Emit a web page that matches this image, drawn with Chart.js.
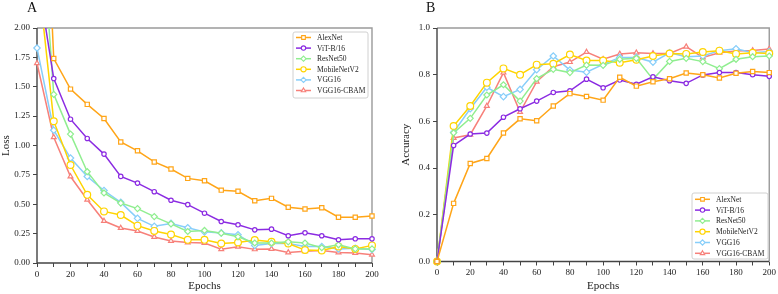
<!DOCTYPE html>
<html>
<head>
<meta charset="utf-8">
<script src="https://cdn.jsdelivr.net/npm/chart.js@4"></script>
<style>
    body { margin: 0; background: #fff; }
    #page { position: relative; width: 778px; height: 294px; overflow: hidden; }
    .panel { position: absolute; top: 0; height: 294px; }
    .tag { position: absolute; font-family: "Liberation Serif", serif; font-size: 14px; line-height: 14px; color: #111; }
</style>
</head>
<body>
<div id="page">
    <div class="panel" style="left:0;width:390px;"><canvas id="lossChart" width="390" height="294"></canvas></div>
    <div class="panel" style="left:390px;width:388px;"><canvas id="accChart" width="388" height="294"></canvas></div>
    <div class="tag" style="left:27px;top:1px;">A</div>
    <div class="tag" style="left:426px;top:1px;">B</div>
</div>
<script>
const epochs = [0, 10, 20, 30, 40, 50, 60, 70, 80, 90, 100, 110, 120, 130, 140, 150, 160, 170, 180, 190, 200];
const modelNames = ['AlexNet', 'ViT-B/16', 'ResNet50', 'MobileNetV2', 'VGG16', 'VGG16-CBAM'];

// loss curves (panel A)
const lossAlexNet = [4.8, 1.74, 1.48, 1.35, 1.23, 1.03, 0.955, 0.86, 0.80, 0.72, 0.70, 0.62, 0.61, 0.53, 0.55, 0.475, 0.46, 0.47, 0.39, 0.39, 0.40];
const lossViT = [2.47, 1.57, 1.224, 1.06, 0.927, 0.737, 0.68, 0.607, 0.534, 0.497, 0.424, 0.353, 0.325, 0.282, 0.288, 0.232, 0.257, 0.232, 0.198, 0.206, 0.206];
const lossResNet = [3.45, 1.435, 1.097, 0.777, 0.596, 0.51, 0.463, 0.395, 0.333, 0.268, 0.277, 0.254, 0.223, 0.17, 0.17, 0.18, 0.17, 0.13, 0.155, 0.12, 0.12];
const lossMobileNet = [2.53, 1.207, 0.834, 0.58, 0.439, 0.408, 0.318, 0.273, 0.242, 0.197, 0.197, 0.166, 0.175, 0.195, 0.18, 0.166, 0.11, 0.107, 0.14, 0.12, 0.15];
const lossVGG16 = [1.83, 1.13, 0.893, 0.736, 0.617, 0.516, 0.38, 0.312, 0.337, 0.30, 0.265, 0.256, 0.24, 0.15, 0.166, 0.166, 0.14, 0.14, 0.12, 0.125, 0.115];
const lossCBAM = [1.70, 1.07, 0.736, 0.538, 0.357, 0.298, 0.273, 0.222, 0.188, 0.175, 0.17, 0.118, 0.138, 0.116, 0.12, 0.09, 0.10, 0.107, 0.09, 0.085, 0.07];

// accuracy curves (panel B)
const accAlexNet = [0, 0.249, 0.42, 0.441, 0.55, 0.611, 0.603, 0.666, 0.719, 0.707, 0.691, 0.789, 0.751, 0.77, 0.783, 0.807, 0.80, 0.786, 0.806, 0.814, 0.809];
const accViT = [0, 0.497, 0.546, 0.55, 0.618, 0.654, 0.687, 0.724, 0.731, 0.781, 0.744, 0.777, 0.759, 0.791, 0.774, 0.763, 0.799, 0.809, 0.809, 0.80, 0.793];
const accResNet = [0, 0.551, 0.613, 0.713, 0.757, 0.687, 0.783, 0.823, 0.809, 0.841, 0.84, 0.866, 0.87, 0.78, 0.857, 0.87, 0.856, 0.826, 0.866, 0.877, 0.88];
const accMobileNet = [0, 0.58, 0.666, 0.766, 0.827, 0.80, 0.843, 0.847, 0.886, 0.861, 0.861, 0.851, 0.864, 0.88, 0.891, 0.889, 0.897, 0.903, 0.889, 0.894, 0.891];
const accVGG16 = [0, 0.553, 0.654, 0.746, 0.706, 0.737, 0.821, 0.88, 0.82, 0.811, 0.844, 0.874, 0.874, 0.854, 0.894, 0.877, 0.88, 0.903, 0.911, 0.894, 0.899];
const accCBAM = [0, 0.529, 0.543, 0.666, 0.809, 0.64, 0.77, 0.834, 0.854, 0.897, 0.866, 0.889, 0.894, 0.891, 0.891, 0.92, 0.874, 0.894, 0.901, 0.904, 0.91];

const lineColors = ['#FFA518', '#8B2BE2', '#90EE90', '#FFD400', '#87CEFA', '#F7807A'];
const pointStyles = ['rect', 'circle', 'rectRot', 'circle', 'rectRot', 'triangle'];
const pointSizes = [3, 2.2, 3, 3.4, 3.2, 2.8];

const serif = '"Liberation Serif", "Times New Roman", serif';

function buildDatasets(seriesList) {
    return seriesList.map((values, i) => ({
        label: modelNames[i],
        data: values.map((v, j) => ({ x: epochs[j], y: v })),
        borderColor: lineColors[i],
        backgroundColor: '#ffffff',
        pointBackgroundColor: '#ffffff',
        pointBorderColor: lineColors[i],
        pointStyle: pointStyles[i],
        pointRadius: pointSizes[i],
        pointBorderWidth: 1.2,
        borderWidth: 1.5,
        tension: 0,
        clip: { left: 6, right: 6, top: 0, bottom: 6 }
    }));
}

// frame around the plot area (all four spines)
const framePlugin = {
    id: 'frame',
    beforeDatasetsDraw(chart) {
        const a = chart.chartArea;
        const ctx = chart.ctx;
        ctx.save();
        ctx.lineWidth = 1.4;
        ctx.strokeStyle = '#9a9a9a';
        ctx.beginPath();
        ctx.moveTo(a.left, a.top);
        ctx.lineTo(a.right, a.top);
        ctx.lineTo(a.right, a.bottom);
        ctx.stroke();
        ctx.strokeStyle = '#444';
        ctx.beginPath();
        ctx.moveTo(a.left, a.top);
        ctx.lineTo(a.left, a.bottom);
        ctx.lineTo(a.right, a.bottom);
        ctx.stroke();
        ctx.restore();
    }
};

// legend box placed inside the plot area
const boxLegendPlugin = {
    id: 'boxLegend',
    afterDraw(chart, args, opts) {
        const ctx = chart.ctx;
        ctx.save();
        ctx.fillStyle = 'rgba(255,255,255,0.9)';
        ctx.strokeStyle = '#d0d0d0';
        ctx.lineWidth = 1;
        ctx.beginPath();
        ctx.roundRect(opts.x, opts.y, opts.w, opts.h, 2);
        ctx.fill();
        ctx.stroke();
        ctx.font = '7.5px ' + serif;
        ctx.textBaseline = 'middle';
        chart.data.datasets.forEach((ds, i) => {
            const y = opts.y + opts.firstRow + i * opts.rowH;
            const x0 = opts.x + 3;
            ctx.strokeStyle = ds.borderColor;
            ctx.lineWidth = 1.5;
            ctx.beginPath();
            ctx.moveTo(x0, y);
            ctx.lineTo(x0 + 15, y);
            ctx.stroke();
            ctx.fillStyle = '#ffffff';
            ctx.strokeStyle = ds.borderColor;
            ctx.lineWidth = 1.1;
            Chart.helpers.drawPoint(ctx, {
                pointStyle: ds.pointStyle,
                radius: Math.min(ds.pointRadius, 2.6),
                borderWidth: 1.1,
                rotation: 0
            }, x0 + 7.5, y);
            ctx.fillStyle = '#222';
            ctx.fillText(ds.label, x0 + 21, y + 0.5);
        });
        ctx.restore();
    }
};

function makeChart(canvasId, seriesList, cfg) {
    const ctx = document.getElementById(canvasId).getContext('2d');
    return new Chart(ctx, {
        type: 'line',
        data: { datasets: buildDatasets(seriesList) },
        options: {
            responsive: false,
            animation: false,
            layout: { padding: cfg.padding },
            plugins: {
                legend: { display: false },
                tooltip: { enabled: false },
                boxLegend: cfg.legend
            },
            scales: {
                x: {
                    type: 'linear',
                    min: 0,
                    max: 200,
                    border: { display: false },
                    grid: { drawOnChartArea: false, drawTicks: true, tickLength: 4, color: '#444', tickWidth: 1 },
                    ticks: {
                        stepSize: 10,
                        autoSkip: false,
                        maxRotation: 0,
                        padding: 2,
                        color: '#222',
                        font: { family: serif, size: 9 },
                        callback: v => (v % 20 === 0 ? v : '')
                    },
                    title: {
                        display: true,
                        text: 'Epochs',
                        color: '#222',
                        font: { family: serif, size: 11 },
                        padding: { top: 0, bottom: 1 }
                    },
                    afterFit: s => { s.height = cfg.xHeight; }
                },
                y: {
                    min: 0,
                    max: cfg.yMax,
                    border: { display: false },
                    grid: { drawOnChartArea: false, drawTicks: true, tickLength: 4, color: '#444', tickWidth: 1 },
                    ticks: {
                        stepSize: cfg.yStep,
                        padding: 3,
                        color: '#222',
                        font: { family: serif, size: 9 },
                        callback: v => v.toFixed(cfg.decimals)
                    },
                    title: {
                        display: true,
                        text: cfg.yTitle,
                        color: '#222',
                        font: { family: serif, size: 11 },
                        padding: { top: 0, bottom: 0 }
                    },
                    afterFit: s => { s.width = 37; }
                }
            }
        },
        plugins: [framePlugin, boxLegendPlugin]
    });
}

makeChart('lossChart', [lossAlexNet, lossViT, lossResNet, lossMobileNet, lossVGG16, lossCBAM], {
    padding: { left: 0, right: 18, top: 28, bottom: 0 },
    xHeight: 31,
    yMax: 2,
    yStep: 0.25,
    decimals: 2,
    yTitle: 'Loss',
    legend: { x: 293, y: 32, w: 75, h: 66, firstRow: 5.5, rowH: 10.6 }
});

makeChart('accChart', [accAlexNet, accViT, accResNet, accMobileNet, accVGG16, accCBAM], {
    padding: { left: 10, right: 8, top: 28, bottom: 0 },
    xHeight: 32.5,
    yMax: 1,
    yStep: 0.2,
    decimals: 1,
    yTitle: 'Accuracy',
    legend: { x: 302, y: 193, w: 76, h: 66, firstRow: 6.3, rowH: 10.8 }
});
</script>
</body>
</html>
